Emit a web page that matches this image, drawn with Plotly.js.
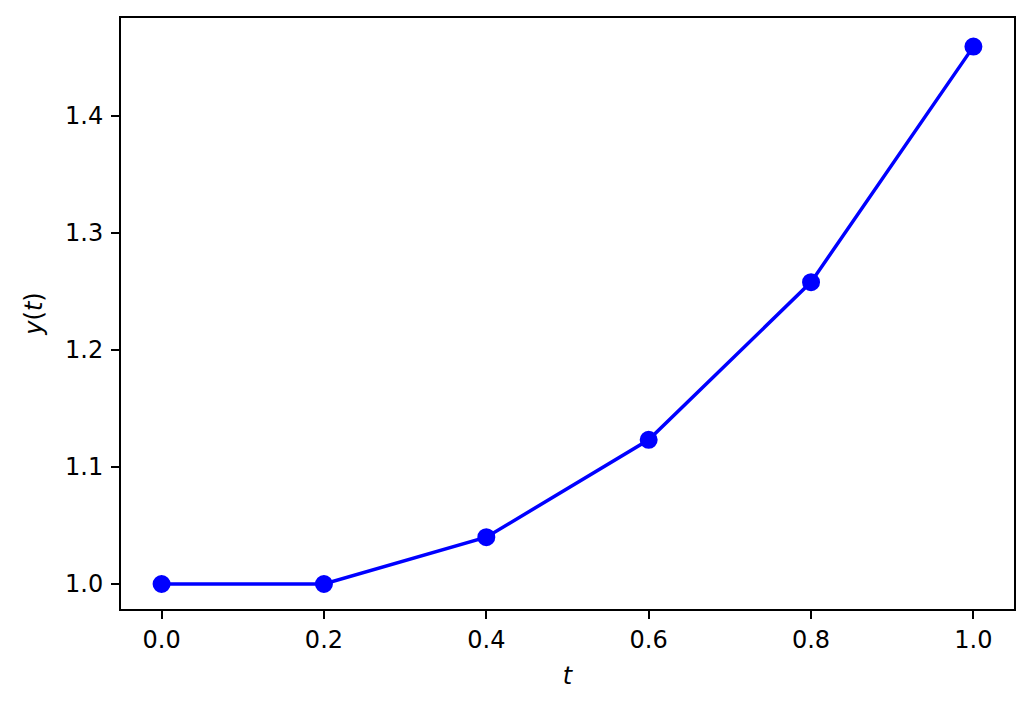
<!DOCTYPE html>
<html>
<head>
<meta charset="utf-8">
<script src="https://cdn.plot.ly/plotly-3.0.1.min.js"></script>
<style>html,body{margin:0;padding:0;background:#fff;}#chart{width:1033px;height:711px;}</style>
</head>
<body>
<div id="chart"></div>
<script>
const tValues = [0.0, 0.2, 0.4, 0.6, 0.8, 1.0];
const yValues = [1.0, 1.0, 1.04, 1.1232, 1.258, 1.4593];
const xTickVals = [0.0, 0.2, 0.4, 0.6, 0.8, 1.0];
const xTickText = ["0.0", "0.2", "0.4", "0.6", "0.8", "1.0"];
const yTickVals = [1.0, 1.1, 1.2, 1.3, 1.4];
const yTickText = ["1.0", "1.1", "1.2", "1.3", "1.4"];

const trace = {
  x: tValues, y: yValues, type: 'scatter', mode: 'lines+markers',
  line: {color: '#0000ff', width: 3.5},
  marker: {color: '#0000ff', size: 16, line: {color: '#0000ff', width: 2}},
  showlegend: false, hoverinfo: 'skip'
};
const axisCommon = {
  showline: true, mirror: true, linecolor: '#000', linewidth: 2,
  ticks: 'outside', ticklen: 8, tickwidth: 2, tickcolor: '#000',
  showgrid: false, zeroline: false,
  tickfont: {family: 'DejaVu Sans', size: 24, color: '#000'}
};
const layout = {
  width: 1033, height: 711,
  margin: {l: 121, r: 19, t: 18, b: 102},
  paper_bgcolor: '#fff', plot_bgcolor: '#fff',
  font: {family: 'DejaVu Sans', color: '#000'},
  xaxis: Object.assign({}, axisCommon, {
    range: [-0.05, 1.05], tickvals: xTickVals, ticktext: xTickText,
    title: {text: '<i>t</i>', font: {family: 'DejaVu Sans', size: 24, color: '#000'}, standoff: 14}
  }),
  yaxis: Object.assign({}, axisCommon, {
    range: [0.97862, 1.48376], tickvals: yTickVals, ticktext: yTickText,
    ticklabelstandoff: 3,
    title: {text: '<i>y</i>(<i>t</i>)', font: {family: 'DejaVu Sans', size: 24, color: '#000'}, standoff: 16}
  })
};
Plotly.newPlot('chart', [trace], layout, {displayModeBar: false, staticPlot: true});
</script>
</body>
</html>
